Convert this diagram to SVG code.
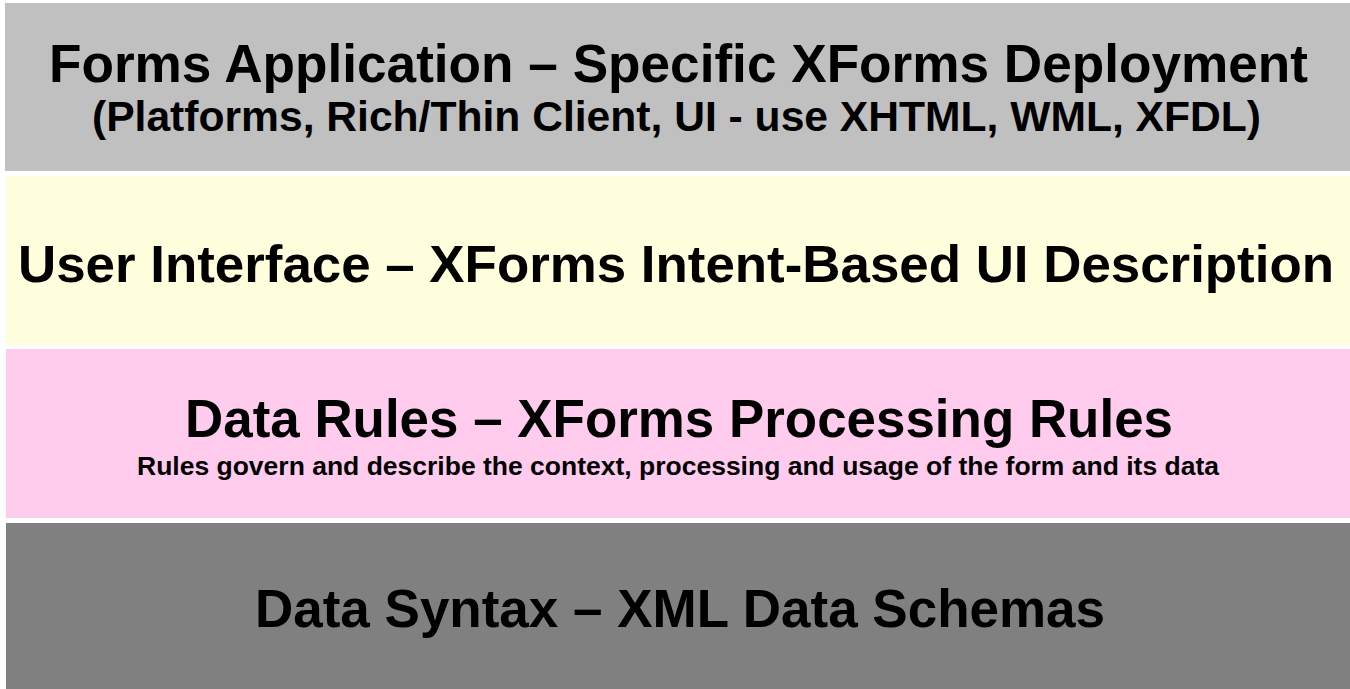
<svg xmlns="http://www.w3.org/2000/svg" width="1350" height="689" viewBox="0 0 1350 689">
<style>
text{font-family:"Liberation Sans",Arial,sans-serif;font-weight:bold;fill:#000;text-anchor:middle}
.t{font-size:54px}
.u{font-size:52px}
.s{font-size:42px}
.m{font-size:25px}
</style>
<rect x="0" y="0" width="1350" height="689" fill="#ffffff"/>
<g id="layer-forms-app">
<rect x="5" y="3" width="1345" height="168" fill="#c0c0c0"/>
<text class="t" x="678.5" y="82" textLength="1259" lengthAdjust="spacingAndGlyphs">Forms Application – Specific XForms Deployment</text>
<text class="s" x="676.5" y="131" textLength="1169" lengthAdjust="spacingAndGlyphs">(Platforms, Rich/Thin Client, UI - use XHTML, WML, XFDL)</text>
</g>
<g id="layer-ui">
<rect x="6" y="176" width="1344" height="169" fill="#ffffdd"/>
<text class="u" x="676" y="282" textLength="1316" lengthAdjust="spacingAndGlyphs">User Interface – XForms Intent-Based UI Description</text>
</g>
<g id="layer-data-rules">
<rect x="6" y="349" width="1344" height="169" fill="#ffccee"/>
<text class="t" x="679" y="437" textLength="988" lengthAdjust="spacingAndGlyphs">Data Rules – XForms Processing Rules</text>
<text class="m" x="678" y="475" textLength="1082" lengthAdjust="spacingAndGlyphs">Rules govern and describe the context, processing and usage of the form and its data</text>
</g>
<g id="layer-data-syntax">
<rect x="6" y="523" width="1344" height="166" fill="#808080"/>
<text class="t" x="680" y="627" textLength="850" lengthAdjust="spacingAndGlyphs">Data Syntax – XML Data Schemas</text>
</g>
<g id="connectors"></g>
</svg>
